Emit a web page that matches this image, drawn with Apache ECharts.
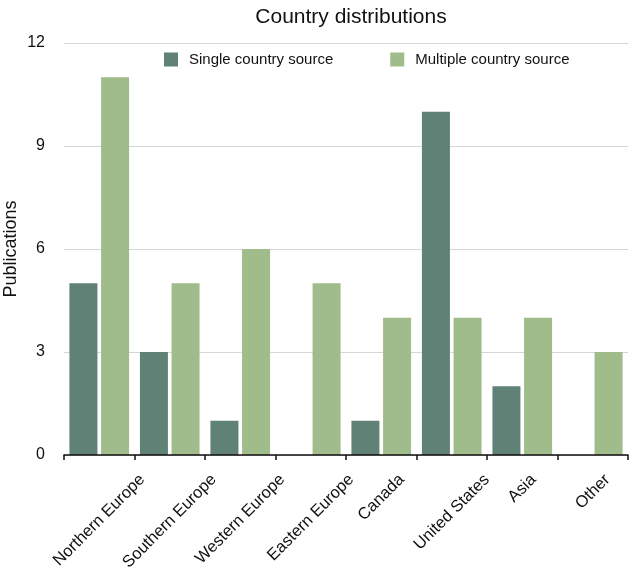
<!DOCTYPE html>
<html>
<head>
<meta charset="utf-8">
<script src="https://cdn.jsdelivr.net/npm/echarts@6/dist/echarts.min.js"></script>
<style>
html,body{margin:0;padding:0;background:#fff;}
#chart{width:633px;height:576px;}
</style>
</head>
<body>
<div id="chart"></div>
<script>
const categories = ['Northern Europe','Southern Europe','Western Europe','Eastern Europe','Canada','United States','Asia','Other'];
const singleSource = [5, 3, 1, 0, 1, 10, 2, 0];
const multipleSource = [11, 5, 6, 5, 4, 4, 4, 3];
const yTicks = [0, 3, 6, 9, 12];

const FONT = '"Liberation Sans", Arial, Helvetica, sans-serif';
const LABEL_SIZE = 16.5;
const LH = 20;
const cv = document.createElement('canvas').getContext('2d');
cv.font = LABEL_SIZE + 'px "Liberation Sans"';
const catData = categories.map(function (c) {
  const L = cv.measureText(c).width;
  return { value: c, textStyle: {
    align: 'center', verticalAlign: 'top',
    padding: [L * 0.25, L * 0.5 + LH, 0, 0]
  } };
});

const chart = echarts.init(document.getElementById('chart'), null, { renderer: 'canvas' });
chart.setOption({
  animation: false,
  title: {
    text: 'Country distributions',
    left: 346, top: 2, textAlign: 'center',
    textStyle: { fontFamily: FONT, fontSize: 21, fontWeight: 'normal', color: '#111' }
  },
  legend: {
    left: 164, top: 52, padding: 0,
    itemWidth: 14, itemHeight: 14, itemGap: 57,
    icon: 'rect',
    textStyle: { fontFamily: FONT, fontSize: 15, color: '#111', padding: [0, 0, 0, 6] },
    data: ['Single country source', 'Multiple country source']
  },
  grid: { left: 64, right: 5, top: 43, bottom: 121, containLabel: false, outerBoundsMode: 'none' },
  xAxis: {
    type: 'category',
    data: catData,
    z: 5,
    axisLine: { lineStyle: { color: '#111', width: 1.5 } },
    axisTick: { show: true, length: 5, lineStyle: { color: '#111', width: 1.5 } },
    axisLabel: {
      interval: 0, rotate: 45, margin: 8, hideOverlap: false,
      align: 'center', verticalAlign: 'top', lineHeight: LH,
      fontFamily: FONT, fontSize: LABEL_SIZE, color: '#111'
    }
  },
  yAxis: {
    type: 'value', min: yTicks[0], max: yTicks[yTicks.length - 1], interval: 3,
    name: 'Publications', nameLocation: 'middle', nameGap: 44, nameMoveOverlap: false,
    nameTextStyle: { fontFamily: FONT, fontSize: 18, color: '#111' },
    axisLine: { show: false }, axisTick: { show: false },
    axisLabel: { margin: 19, fontFamily: FONT, fontSize: 16, color: '#111' },
    splitLine: { lineStyle: { color: '#d6d6d6', width: 1 } }
  },
  series: [
    { name: 'Single country source', type: 'bar', data: singleSource,
      barWidth: 28, barGap: '13%', itemStyle: { color: '#5f8176' } },
    { name: 'Multiple country source', type: 'bar', data: multipleSource,
      barWidth: 28, barGap: '13%', itemStyle: { color: '#a0bc8a' } }
  ]
});
</script>
</body>
</html>
